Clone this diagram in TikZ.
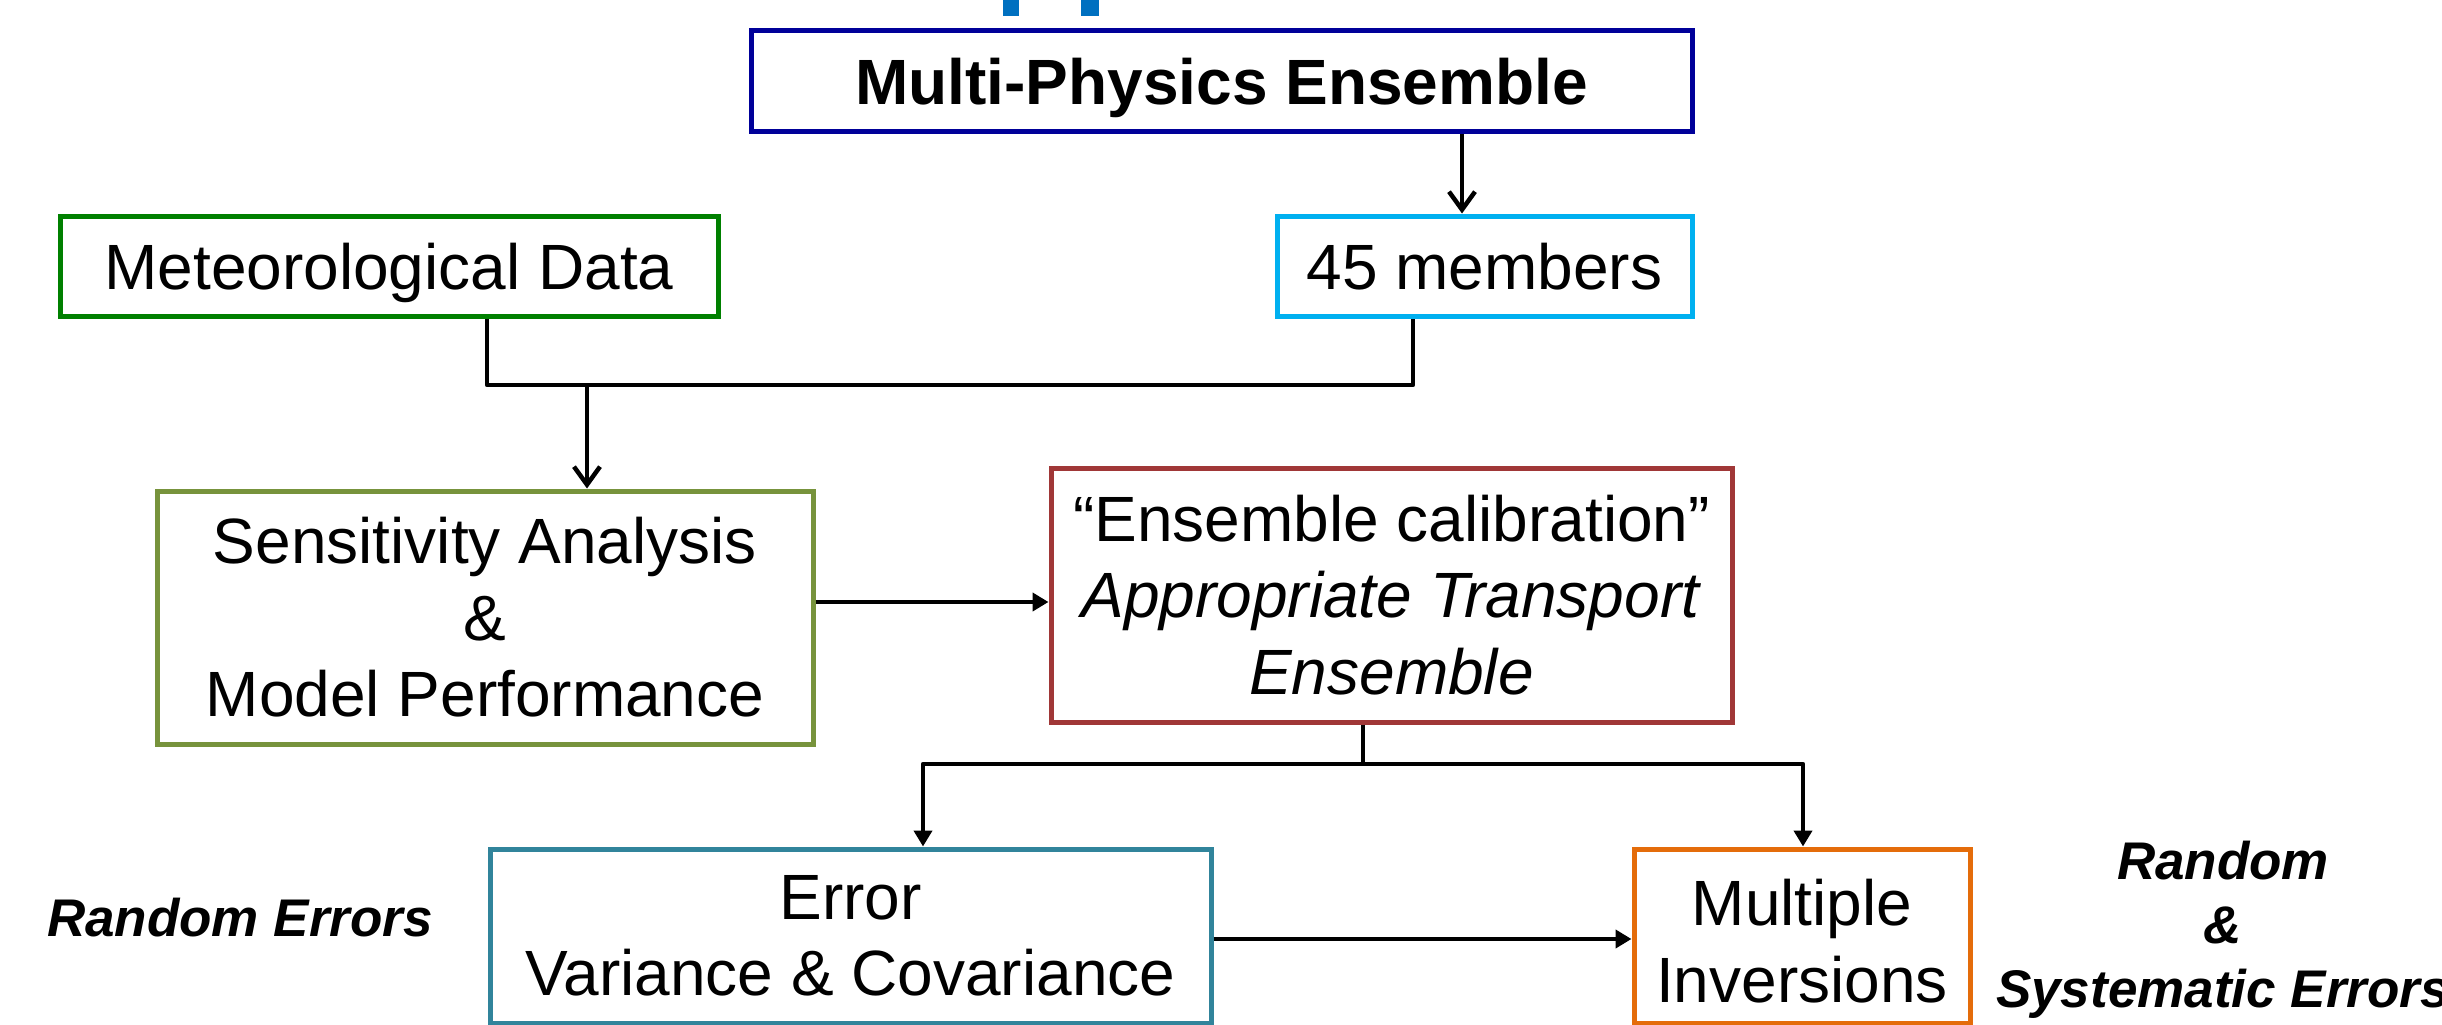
\documentclass[tikz,border=0pt]{standalone}
\usepackage{fontspec}
\setmainfont{Liberation Sans}
\usetikzlibrary{arrows.meta}
\newcommand\FontBox{\fontsize{64}{76.5}\selectfont}
\newcommand\FontSide{\fontsize{53}{64}\selectfont\bfseries\itshape}
\definecolor{cMP}{RGB}{0,0,153}
\definecolor{cMet}{RGB}{0,128,0}
\definecolor{cMem}{RGB}{0,176,240}
\definecolor{cSens}{RGB}{119,147,60}
\definecolor{cCal}{RGB}{160,55,55}
\definecolor{cErr}{RGB}{49,132,155}
\definecolor{cMul}{RGB}{228,108,10}
\definecolor{cTop}{RGB}{0,112,192}
\tikzset{
  box/.style={draw, line width=5pt, rectangle, inner sep=0pt, align=center, font=\FontBox},
  oneline/.style={text height=46pt, text depth=0pt},
  conn/.style={line width=4.5pt, line join=round, black},
  openarrow/.style={conn, -{Straight Barb[length=18pt,width=26pt]}},
  filledarrow/.style={conn, -{Triangle[length=16pt,width=18pt]}},
  sidelabel/.style={inner sep=0pt, align=center, font=\FontSide}
}
\begin{document}
\begin{tikzpicture}[x=1pt,y=-1pt]
\useasboundingbox (0,0) rectangle (2442,1025);
% fragments at top
\fill[cTop] (1003,0) rectangle (1019,16);
\fill[cTop] (1081,0) rectangle (1099,16);

\node[box, oneline, draw=cMP, minimum width=941pt, minimum height=100pt, font=\FontBox\bfseries] (mp) at (1221.5,81) {Multi-Physics Ensemble};
\node[box, oneline, draw=cMet, minimum width=658pt, minimum height=100pt] (met) at (389,266) {Meteorological Data};
\node[box, oneline, draw=cMem, minimum width=415pt, minimum height=100pt] (mem) at (1484.5,266) {45 members};
\node[box, draw=cSens, minimum width=656pt, minimum height=253pt] (sens) at (485,617.5) {Sensitivity Analysis\\ \&\\ Model Performance};
\node[box, draw=cCal, minimum width=681pt, minimum height=254pt] (cal) at (1391.5,595) {“Ensemble calibration”\\ \textit{Appropriate Transport}\\ \textit{Ensemble}};
\node[box, draw=cErr, minimum width=721pt, minimum height=174pt] (err) at (850.5,936) {Error\\ Variance \& Covariance};
\node[box, draw=cMul, minimum width=336pt, minimum height=174pt] (mul) at (1802,936) {\rule{0pt}{57pt}Multiple\\ Inversions};

\node[sidelabel, text height=38pt, text depth=0pt] (rnd) at (240,917) {Random Errors};
\node[sidelabel] (rse) at (2223,929.5) {Random\\ \&\\ Systematic Errors};

% junction coordinates
\coordinate (xa) at (1462,0);
\coordinate (jm) at (487,385);
\coordinate (jr) at (1413,385);
\coordinate (ja) at (587,385);
\coordinate (ya) at (0,602);
\coordinate (jc) at (1363,764);
\coordinate (jl) at (923,764);
\coordinate (jrr) at (1803,764);
\coordinate (yb) at (0,939);

\draw[openarrow] (mp.south -| xa) -- (mem.north -| xa);
\draw[conn] (met.south -| jm) -- (jm) -- (jr) -- (mem.south -| jr);
\draw[openarrow] (ja) -- (sens.north -| ja);
\draw[filledarrow] (sens.east |- ya) -- (cal.west |- ya);
\draw[conn] (cal.south -| jc) -- (jc);
\draw[filledarrow] (jc) -| (err.north -| jl);
\draw[filledarrow] (jc) -| (mul.north -| jrr);
\draw[filledarrow] (err.east |- yb) -- (mul.west |- yb);
\end{tikzpicture}
\end{document}
